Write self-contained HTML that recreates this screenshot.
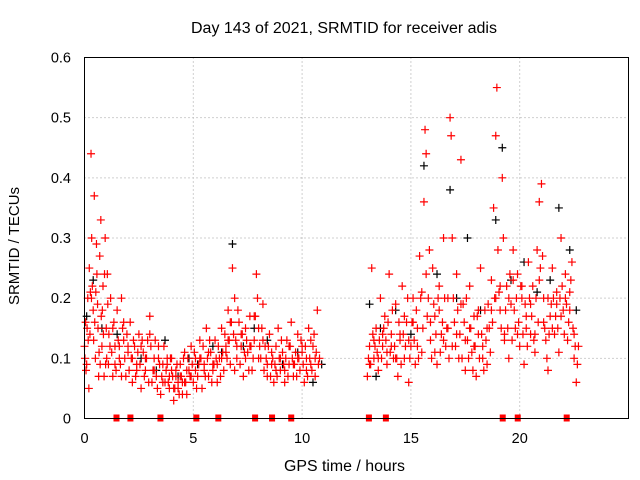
<!DOCTYPE html>
<html><head><meta charset="utf-8"><style>
body{margin:0;background:#fff}
svg{display:block;font-family:"Liberation Sans",sans-serif}
</style></head><body>
<svg id="chart" width="640" height="480" xmlns="http://www.w3.org/2000/svg">
<text x="191" y="33" font-size="15.5" textLength="306" lengthAdjust="spacingAndGlyphs">Day 143 of 2021, SRMTID for receiver adis</text>
<text transform="translate(19,246) rotate(-90)" font-size="15" text-anchor="middle">SRMTID / TECUs</text>
<text x="284" y="471" font-size="15.5" textLength="121" lengthAdjust="spacingAndGlyphs">GPS time / hours</text>
<g id="grid"></g>
<g id="ticks"></g>
<g id="black"></g>
<g id="red"></g>
<g id="gaps"></g>
<rect x="84.5" y="57.5" width="544" height="361" fill="none" stroke="#000" stroke-width="1"/>
</svg>
<script>
const xTicks=[0,5,10,15,20];
const yTicks=[0,0.1,0.2,0.3,0.4,0.5,0.6];
const yTickLabels=["0","0.1","0.2","0.3","0.4","0.5","0.6"];
const redT=[0,0.05,0.1,0.15,0.2,0.25,0.3,0.33,0.36,0.4,0.45,0.5,0.55,0.6,0.65,0.7,0.75,0.8,0.85,0.9,0.95,1.0,1.05,1.1,1.2,1.3,1.4,1.5,1.6,1.7,1.8,1.9,2.0,2.1,2.2,2.3,2.4,2.5,2.6,2.7,2.8,2.9,3.0,3.1,3.2,3.3,3.4,3.5,3.6,3.7,3.8,3.9,4.0,4.1,4.2,4.3,4.4,4.5,4.6,4.7,4.8,4.9,5.0,5.1,5.2,5.3,5.4,5.5,5.6,5.7,5.8,5.9,6.0,6.1,6.2,6.3,6.4,6.5,6.6,6.7,6.8,6.85,6.9,7.0,7.1,7.2,7.3,7.4,7.5,7.6,7.7,7.8,7.9,8.0,8.1,8.2,8.3,8.4,8.5,8.6,8.7,8.8,8.9,9.0,9.1,9.2,9.3,9.4,9.5,9.6,9.7,9.8,9.9,10.0,10.1,10.2,10.3,10.4,10.5,10.6,10.7,10.8,
13.0,13.1,13.2,13.3,13.4,13.5,13.6,13.7,13.8,13.9,14.0,14.1,14.2,14.3,14.4,14.5,14.6,14.7,14.8,14.9,15.0,15.1,15.2,15.3,15.4,15.5,15.6,15.65,15.7,15.8,15.9,16.0,16.1,16.2,16.3,16.4,16.5,16.6,16.7,16.8,16.85,16.9,17.0,17.1,17.2,17.3,17.4,17.5,17.6,17.7,17.8,17.9,18.0,18.1,18.2,18.3,18.4,18.5,18.6,18.7,18.8,18.9,18.95,19.0,19.1,19.2,19.3,19.4,19.5,19.6,19.7,19.8,19.9,20.0,20.1,20.2,20.3,20.4,20.5,20.6,20.7,20.8,20.9,21.0,21.1,21.2,21.3,21.4,21.5,21.6,21.7,21.8,21.9,22.0,22.1,22.2,22.3,22.4,22.5,22.6,22.7,
0.02,0.12,0.22,0.32,0.42,0.52,0.62,0.72,0.82,0.92,1.02,1.12,1.25,1.35,1.45,1.55,1.65,1.75,1.85,1.95,2.05,2.15,2.25,2.35,2.45,2.55,2.65,2.75,2.85,2.95,3.05,3.15,3.25,3.35,3.45,3.55,3.65,3.75,3.85,3.95,4.05,4.15,4.25,4.35,4.45,4.55,4.65,4.75,4.85,4.95,5.05,5.15,5.25,5.35,5.45,5.55,5.65,5.75,5.85,5.95,6.05,6.15,6.25,6.35,6.45,6.55,6.65,6.75,6.95,7.05,7.15,7.25,7.35,7.45,7.55,7.65,7.75,7.85,7.95,8.05,8.15,8.25,8.35,8.45,8.55,8.65,8.75,8.85,8.95,9.05,9.15,9.25,9.35,9.45,9.55,9.65,9.75,9.85,9.95,10.05,10.15,10.25,10.35,10.45,10.55,10.65,10.75,
13.05,13.15,13.25,13.35,13.45,13.55,13.65,13.75,13.85,13.95,14.05,14.15,14.25,14.35,14.45,14.55,14.65,14.75,14.85,14.95,15.05,15.15,15.25,15.35,15.45,15.55,15.75,15.85,15.95,16.05,16.15,16.25,16.35,16.45,16.55,16.65,16.75,16.95,17.05,17.15,17.25,17.35,17.45,17.55,17.65,17.75,17.85,17.95,18.05,18.15,18.25,18.35,18.45,18.55,18.65,18.75,18.85,19.05,19.15,19.25,19.35,19.45,19.55,19.65,19.75,19.85,19.95,20.05,20.15,20.25,20.35,20.45,20.55,20.65,20.75,20.85,20.95,21.05,21.15,21.25,21.35,21.45,21.55,21.65,21.75,21.85,21.95,22.05,22.15,22.25,22.35,22.45,22.55,22.65,
0.07,0.17,0.27,0.47,0.57,0.67,0.77,0.87,0.97,1.07,1.17,1.3,1.4,1.6,1.7,1.8,2.0,2.2,2.4,2.6,2.8,3.0,3.2,3.4,3.6,3.8,3.9,4.0,4.1,4.2,4.3,4.4,4.5,4.6,4.7,4.9,5.1,5.3,5.5,5.7,5.9,6.1,6.3,6.5,6.6,6.7,6.9,7.0,7.2,7.4,7.6,7.8,8.0,8.2,8.4,8.6,8.8,9.0,9.2,9.4,9.6,9.8,10.0,10.2,10.4,10.6,
13.1,13.3,13.5,13.7,13.9,14.1,14.3,14.5,14.7,14.9,15.1,15.3,15.5,15.7,15.9,16.1,16.3,16.5,16.7,16.9,17.1,17.3,17.5,17.7,17.9,18.1,18.3,18.5,18.7,18.9,19.1,19.3,19.5,19.7,19.9,20.1,20.3,20.5,20.7,20.9,21.1,21.3,21.5,21.7,21.9,22.1,22.3,22.5];
const redV=[.12,.16,.09,.2,.05,.14,.44,.3,.22,.18,.37,.1,.29,.19,.07,.27,.33,.12,.22,.07,.3,.15,.24,.09,.2,.07,.12,.18,.1,.2,.13,.07,.11,.16,.06,.12,.09,.14,.05,.11,.08,.13,.17,.06,.1,.07,.12,.04,.09,.06,.1,.05,.08,.03,.07,.05,.09,.06,.11,.04,.08,.12,.06,.1,.07,.13,.05,.09,.15,.07,.11,.08,.13,.06,.1,.15,.08,.12,.18,.09,.25,.14,.2,.1,.16,.12,.07,.15,.11,.17,.08,.13,.24,.15,.1,.19,.12,.07,.14,.09,.06,.12,.15,.08,.11,.06,.13,.09,.16,.07,.11,.14,.08,.12,.06,.1,.15,.09,.12,.07,.18,.1,
.07,.12,.25,.1,.15,.08,.2,.12,.17,.09,.24,.14,.1,.19,.07,.13,.22,.1,.16,.06,.12,.2,.09,.15,.27,.11,.36,.48,.44,.2,.13,.25,.17,.09,.22,.14,.3,.12,.2,.5,.47,.3,.16,.24,.1,.43,.19,.08,.13,.22,.11,.17,.07,.14,.25,.12,.18,.09,.15,.23,.35,.47,.55,.28,.18,.4,.13,.22,.1,.19,.28,.15,.24,.12,.2,.09,.17,.26,.14,.22,.11,.28,.36,.39,.2,.13,.08,.17,.25,.14,.21,.11,.3,.18,.24,.13,.21,.26,.1,.06,.12,
.1,.15,.25,.2,.13,.21,.15,.09,.18,.24,.1,.14,.11,.16,.08,.13,.09,.15,.1,.14,.08,.1,.13,.07,.11,.09,.13,.07,.1,.06,.12,.08,.13,.05,.09,.07,.12,.08,.06,.1,.07,.05,.09,.04,.07,.1,.06,.1,.07,.09,.11,.05,.09,.1,.12,.07,.1,.13,.06,.09,.1,.12,.07,.11,.14,.1,.13,.16,.13,.18,.09,.14,.11,.13,.08,.12,.1,.17,.2,.12,.15,.08,.1,.12,.07,.1,.09,.07,.1,.13,.09,.1,.07,.12,.1,.09,.07,.1,.13,.09,.12,.07,.1,.08,.14,.11,.09,
.1,.09,.14,.12,.11,.13,.1,.15,.13,.16,.11,.18,.12,.1,.16,.09,.14,.12,.2,.1,.16,.13,.18,.1,.2,.15,.17,.28,.1,.19,.14,.2,.11,.16,.2,.15,.1,.2,.12,.18,.14,.1,.16,.2,.1,.15,.08,.12,.17,.1,.14,.08,.13,.19,.11,.16,.2,.21,.15,.3,.18,.15,.24,.13,.18,.2,.16,.22,.14,.19,.12,.2,.17,.13,.2,.16,.25,.27,.15,.1,.14,.19,.2,.17,.15,.2,.22,.14,.19,.16,.23,.15,.12,.09,
.08,.13,.21,.16,.24,.11,.17,.14,.09,.19,.12,.15,.09,.12,.07,.16,.12,.1,.08,.12,.1,.14,.08,.1,.06,.09,.07,.1,.05,.08,.06,.07,.04,.06,.08,.07,.08,.1,.08,.11,.09,.09,.1,.11,.13,.16,.08,.12,.14,.1,.12,.17,.1,.13,.09,.11,.08,.1,.08,.12,.09,.1,.11,.08,.13,.1,
.09,.13,.1,.14,.11,.12,.1,.14,.17,.13,.16,.12,.21,.24,.16,.11,.18,.13,.15,.12,.14,.19,.13,.15,.12,.18,.1,.15,.18,.2,.22,.14,.2,.23,.14,.22,.15,.19,.14,.23,.16,.2,.15,.19,.17,.2,.18,.14];
const blackT=[0.1,0.4,0.8,1.5,2.6,3.3,3.7,4.3,5.2,5.9,6.8,7.3,7.8,8.4,9.1,9.8,10.5,13.1,13.6,14.3,15.0,15.6,16.2,16.8,17.1,17.6,18.2,18.9,19.2,19.6,20.2,20.8,21.4,21.8,22.3,22.6,4.8,6.3,10.9,13.4];
const blackV=[.17,.23,.15,.14,.1,.08,.13,.07,.09,.12,.29,.12,.15,.13,.09,.11,.06,.19,.15,.18,.14,.42,.24,.38,.2,.3,.18,.33,.45,.23,.26,.21,.23,.35,.28,.18,.1,.11,.09,.07];
const gapT=[1.47,2.11,3.49,5.14,6.15,7.84,8.62,9.5,13.07,13.85,19.22,19.91,22.16];

const X0=84.5,X1=628.5,Y0=418.5,Y1=57.5,XMAX=25,YMAX=0.6;
function sx(t){return X0+(t/XMAX)*(X1-X0);}
function sy(v){return Y0-(v/YMAX)*(Y0-Y1);}
const NS="http://www.w3.org/2000/svg";
function mk(tag,parent){const e=document.createElementNS(NS,tag);parent.appendChild(e);return e;}
const grid=document.getElementById('grid'),ticks=document.getElementById('ticks');
xTicks.forEach(t=>{
  const x=sx(t);
  if(t>0){const l=mk('line',grid);
    
    
    l.setAttribute('x1',x);l.setAttribute('x2',x);l.setAttribute('y1',Y0);l.setAttribute('y2',Y1);
    l.setAttribute('stroke','#a0a0a0');l.setAttribute('stroke-dasharray','1,3');}
  const tk=mk('text',ticks);
  
  
  tk.setAttribute('x',x);tk.setAttribute('y',443);tk.setAttribute('font-size','14.5');tk.setAttribute('text-anchor','middle');
  tk.textContent=String(t);
});
yTicks.forEach((v,i)=>{
  const y=sy(v);
  if(v>0){const l=mk('line',grid);
    
    
    l.setAttribute('x1',X0);l.setAttribute('x2',X1);l.setAttribute('y1',y);l.setAttribute('y2',y);
    l.setAttribute('stroke','#a0a0a0');l.setAttribute('stroke-dasharray','1,3');}
  const tk=mk('text',ticks);
  
  
  tk.setAttribute('x',71);tk.setAttribute('y',y+5);tk.setAttribute('font-size','14.5');tk.setAttribute('text-anchor','end');
  tk.textContent=yTickLabels[i];
});
function plus(g,t,v,col,name){
  const x=sx(t),y=sy(v);
  const p=mk('path',g);
  
  
  p.setAttribute('d','M'+(x-4)+' '+y+'H'+(x+4)+'M'+x+' '+(y-4)+'V'+(y+4));
  p.setAttribute('stroke',col);p.setAttribute('stroke-width','1.2');
}
const gb=document.getElementById('black'),gr=document.getElementById('red'),gg=document.getElementById('gaps');
blackT.forEach((t,i)=>plus(gb,t,blackV[i],'#000','black-point'));
redT.forEach((t,i)=>plus(gr,t,redV[i],'#ff0000','red-point'));
gapT.forEach(t=>{
  const r=mk('rect',gg);
  
  
  r.setAttribute('x',sx(t)-3);r.setAttribute('y',sy(0)-4);r.setAttribute('width',6);r.setAttribute('height',7);r.setAttribute('fill','#ff0000');
});
</script>
</body></html>
